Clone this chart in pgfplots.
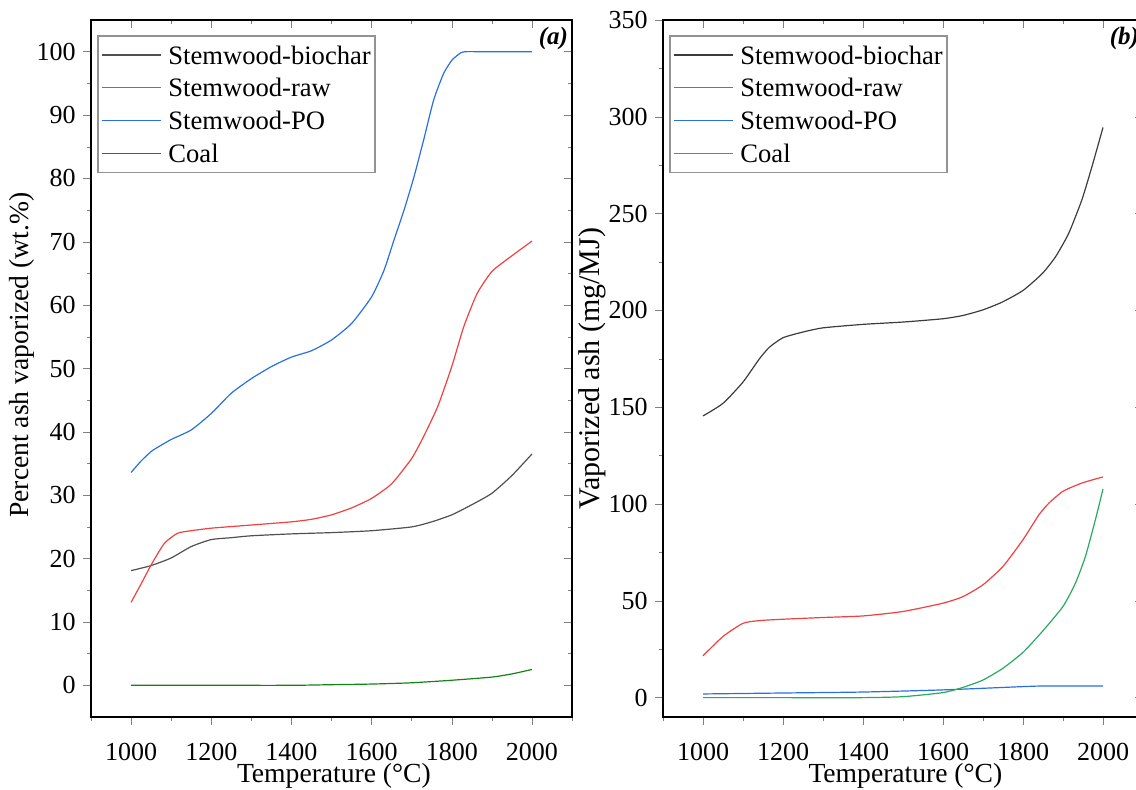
\documentclass[border=0pt]{standalone}
\usepackage{pgfplots}
\pgfplotsset{compat=1.18}
\usepackage{fontspec}
\setmainfont{Liberation Serif}

\definecolor{cBio}{RGB}{80,80,80}
\definecolor{cBioB}{RGB}{60,60,60}
\definecolor{cRaw}{RGB}{240,64,64}
\definecolor{cPO}{RGB}{40,112,226}
\definecolor{cCoalA}{RGB}{20,130,20}
\definecolor{cCoalB}{RGB}{40,170,95}

% legend drawn inside the axis picture: #1..#4 = line colours
\newcommand{\mylegend}[4]{%
  \coordinate (LT) at ([xshift=3.5pt,yshift=-8pt]rel axis cs:0,1);
  \draw[gray!85, line width=0.6pt, fill=white] (LT) rectangle ++(138.5pt,-68.35pt);
  \draw[#1, line width=0.6pt] ([shift={(1.85pt,-9.5pt)}]LT) -- ++(29.6pt,0pt);
  \draw[#2, line width=0.6pt] ([shift={(1.85pt,-25.85pt)}]LT) -- ++(29.6pt,0pt);
  \draw[#3, line width=0.6pt] ([shift={(1.85pt,-42.35pt)}]LT) -- ++(29.6pt,0pt);
  \draw[#4, line width=0.6pt] ([shift={(1.85pt,-58.65pt)}]LT) -- ++(29.6pt,0pt);
  \node[anchor=base west, inner sep=0pt, font=\fontsize{13.3}{16}\selectfont] at ([shift={(35pt,-14pt)}]LT) {Stemwood-biochar};
  \node[anchor=base west, inner sep=0pt, font=\fontsize{13.3}{16}\selectfont] at ([shift={(35pt,-30.35pt)}]LT) {Stemwood-raw};
  \node[anchor=base west, inner sep=0pt, font=\fontsize{13.3}{16}\selectfont] at ([shift={(35pt,-46.85pt)}]LT) {Stemwood-PO};
  \node[anchor=base west, inner sep=0pt, font=\fontsize{13.3}{16}\selectfont] at ([shift={(35pt,-63.15pt)}]LT) {Coal};
}

\pgfplotsset{
  panel/.style={
    scale only axis, width=240pt, height=348.5pt,
    anchor=south west,
    xmin=900, xmax=2100,
    xtick={1000,1200,...,2000},
    minor xtick={900,1100,...,2100},
    scaled ticks=false,
    /pgf/number format/1000 sep={},
    /pgf/number format/assume math mode=true,
    tick label style={font=\fontsize{13}{15}\selectfont},
    axis line style={line width=0.9pt},
    major tick length=4pt, minor tick length=2pt,
  },
  mainpanel/.style={
    panel,
    tick align=outside,
    xtick pos=left, ytick pos=left,
    xticklabel style={anchor=north, inner sep=0pt, yshift=-9pt},
    yticklabel style={anchor=east, inner sep=0pt, xshift=-3.5pt},
    label style={font=\fontsize{13.8}{16}\selectfont, inner sep=0pt},
    xlabel style={at={(axis description cs:0.505,-0.085)}, anchor=center},
    every axis plot/.append style={line width=0.6pt, line join=round, smooth, tension=0.35},
  },
  mirror/.style={
    panel,
    tick align=inside,
    xtick pos=right, ytick pos=right,
    xticklabels={}, yticklabels={},
  },
}

\begin{document}
\begin{tikzpicture}

% ---------------- panel (a) ----------------
\begin{axis}[mainpanel, at={(45.5pt,36pt)}, width=240.5pt,
  ymin=-5, ymax=105,
  ytick={0,10,...,100}, minor ytick={5,15,...,95},
  xlabel={Temperature (°C)},
  ylabel={Percent ash vaporized (wt.\%)},
  ylabel style={at={(axis description cs:-0.1435,0.519)}, anchor=center},
]
\addplot[draw=cBio] coordinates {
(1000,18.1)(1050,18.9)(1100,20.1)(1150,21.9)(1200,23.0)(1250,23.3)(1300,23.6)
(1400,23.9)(1500,24.1)(1600,24.4)(1700,25.0)(1750,25.8)(1800,26.9)(1850,28.5)
(1900,30.3)(1950,33.1)(2000,36.5)};
\addplot[draw=cRaw] coordinates {
(1000,13.1)(1025,16.0)(1050,19.0)(1083,22.4)(1116,24.0)(1150,24.4)(1200,24.8)
(1300,25.3)(1400,25.8)(1450,26.2)(1500,26.9)(1550,28.0)(1600,29.5)(1650,31.8)
(1700,35.8)(1730,39.3)(1765,44.0)(1800,50.3)(1830,56.6)(1863,61.8)(1900,65.3)
(1946,67.6)(2000,70.1)};
\addplot[draw=cPO] coordinates {
(1000,33.6)(1025,35.4)(1050,36.9)(1070,37.7)(1100,38.8)(1150,40.3)(1200,42.9)
(1250,46.1)(1300,48.4)(1350,50.3)(1400,51.8)(1450,52.8)(1500,54.5)(1550,57.1)
(1600,61.3)(1631,65.5)(1656,70.3)(1681,75.0)(1706,80.3)(1730,86.1)(1755,92.4)
(1780,96.6)(1801,98.7)(1822,99.8)(1834,100)(1870,100)(1920,100)(2000,100)};
\addplot[draw=cCoalA] coordinates {
(1000,0)(1200,0)(1400,0)(1500,0.1)(1600,0.2)(1700,0.4)(1800,0.8)(1900,1.3)(1950,1.8)(2000,2.5)};
\mylegend{cBio}{cRaw}{cPO}{cCoalA}
\node[anchor=north east, inner sep=0pt, font=\fontsize{12.5}{14}\selectfont\bfseries\itshape]
  at (rel axis cs:1,1) [xshift=-1.8pt, yshift=-3.5pt] {(a)};
\end{axis}
\begin{axis}[mirror, at={(45.5pt,36pt)}, width=240.5pt,
  ymin=-5, ymax=105,
  ytick={0,10,...,100}, minor ytick={5,15,...,95}]
\end{axis}

% ---------------- panel (b) ----------------
\begin{axis}[mainpanel, at={(331.5pt,36pt)},
  ymin=-10, ymax=350,
  ytick={0,50,...,350}, minor ytick={25,75,...,325},
  xlabel={Temperature (°C)},
  ylabel={Vaporized ash (mg/MJ)},
  ylabel style={at={(axis description cs:-0.148,0.5)}, anchor=center, font=\fontsize{15}{17}\selectfont},
]
\addplot[draw=cBioB] coordinates {
(1000,145.5)(1050,152)(1100,163)(1141,175)(1166,181)(1200,185.9)(1249,188.8)
(1300,191)(1400,192.8)(1500,194.0)(1600,195.7)(1650,197.4)(1700,200.3)(1748,204.3)
(1800,210.3)(1848,219)(1881,227.6)(1914,239.7)(1947,257)(1972,274)(2000,294.5)};
\addplot[draw=cRaw] coordinates {
(1000,21.6)(1050,31.6)(1100,38.4)(1141,39.8)(1200,40.5)(1300,41.4)(1400,42.2)
(1500,44.5)(1600,48.8)(1650,52.2)(1700,58.3)(1750,67.8)(1800,81.6)(1840,94.5)
(1865,100.5)(1900,106.6)(1948,110.9)(2000,114.0)};
\addplot[draw=cPO] coordinates {
(1000,1.9)(1200,2.4)(1400,2.9)(1600,4.0)(1800,5.7)(1850,6.0)(2000,6.0)};
\addplot[draw=cCoalB] coordinates {
(1000,0)(1200,0)(1400,0)(1500,0.5)(1600,2.6)(1650,5.3)(1700,9.1)(1750,15.2)(1800,23.4)
(1848,34.1)(1900,47.1)(1931,59.1)(1956,72.9)(1981,91.9)(2000,107.8)};
\mylegend{cBioB}{cRaw}{cPO}{cCoalB}
\node[anchor=north east, inner sep=0pt, font=\fontsize{12.5}{14}\selectfont\bfseries\itshape]
  at (rel axis cs:1,1) [xshift=-1.8pt, yshift=-3.5pt] {(b)};
\end{axis}
\begin{axis}[mirror, at={(331.5pt,36pt)},
  ymin=-10, ymax=350,
  ytick={0,50,...,350}, minor ytick={25,75,...,325}]
\end{axis}

\pgfresetboundingbox
\useasboundingbox (0pt,0pt) rectangle (568pt,394.5pt);
\end{tikzpicture}
\end{document}
